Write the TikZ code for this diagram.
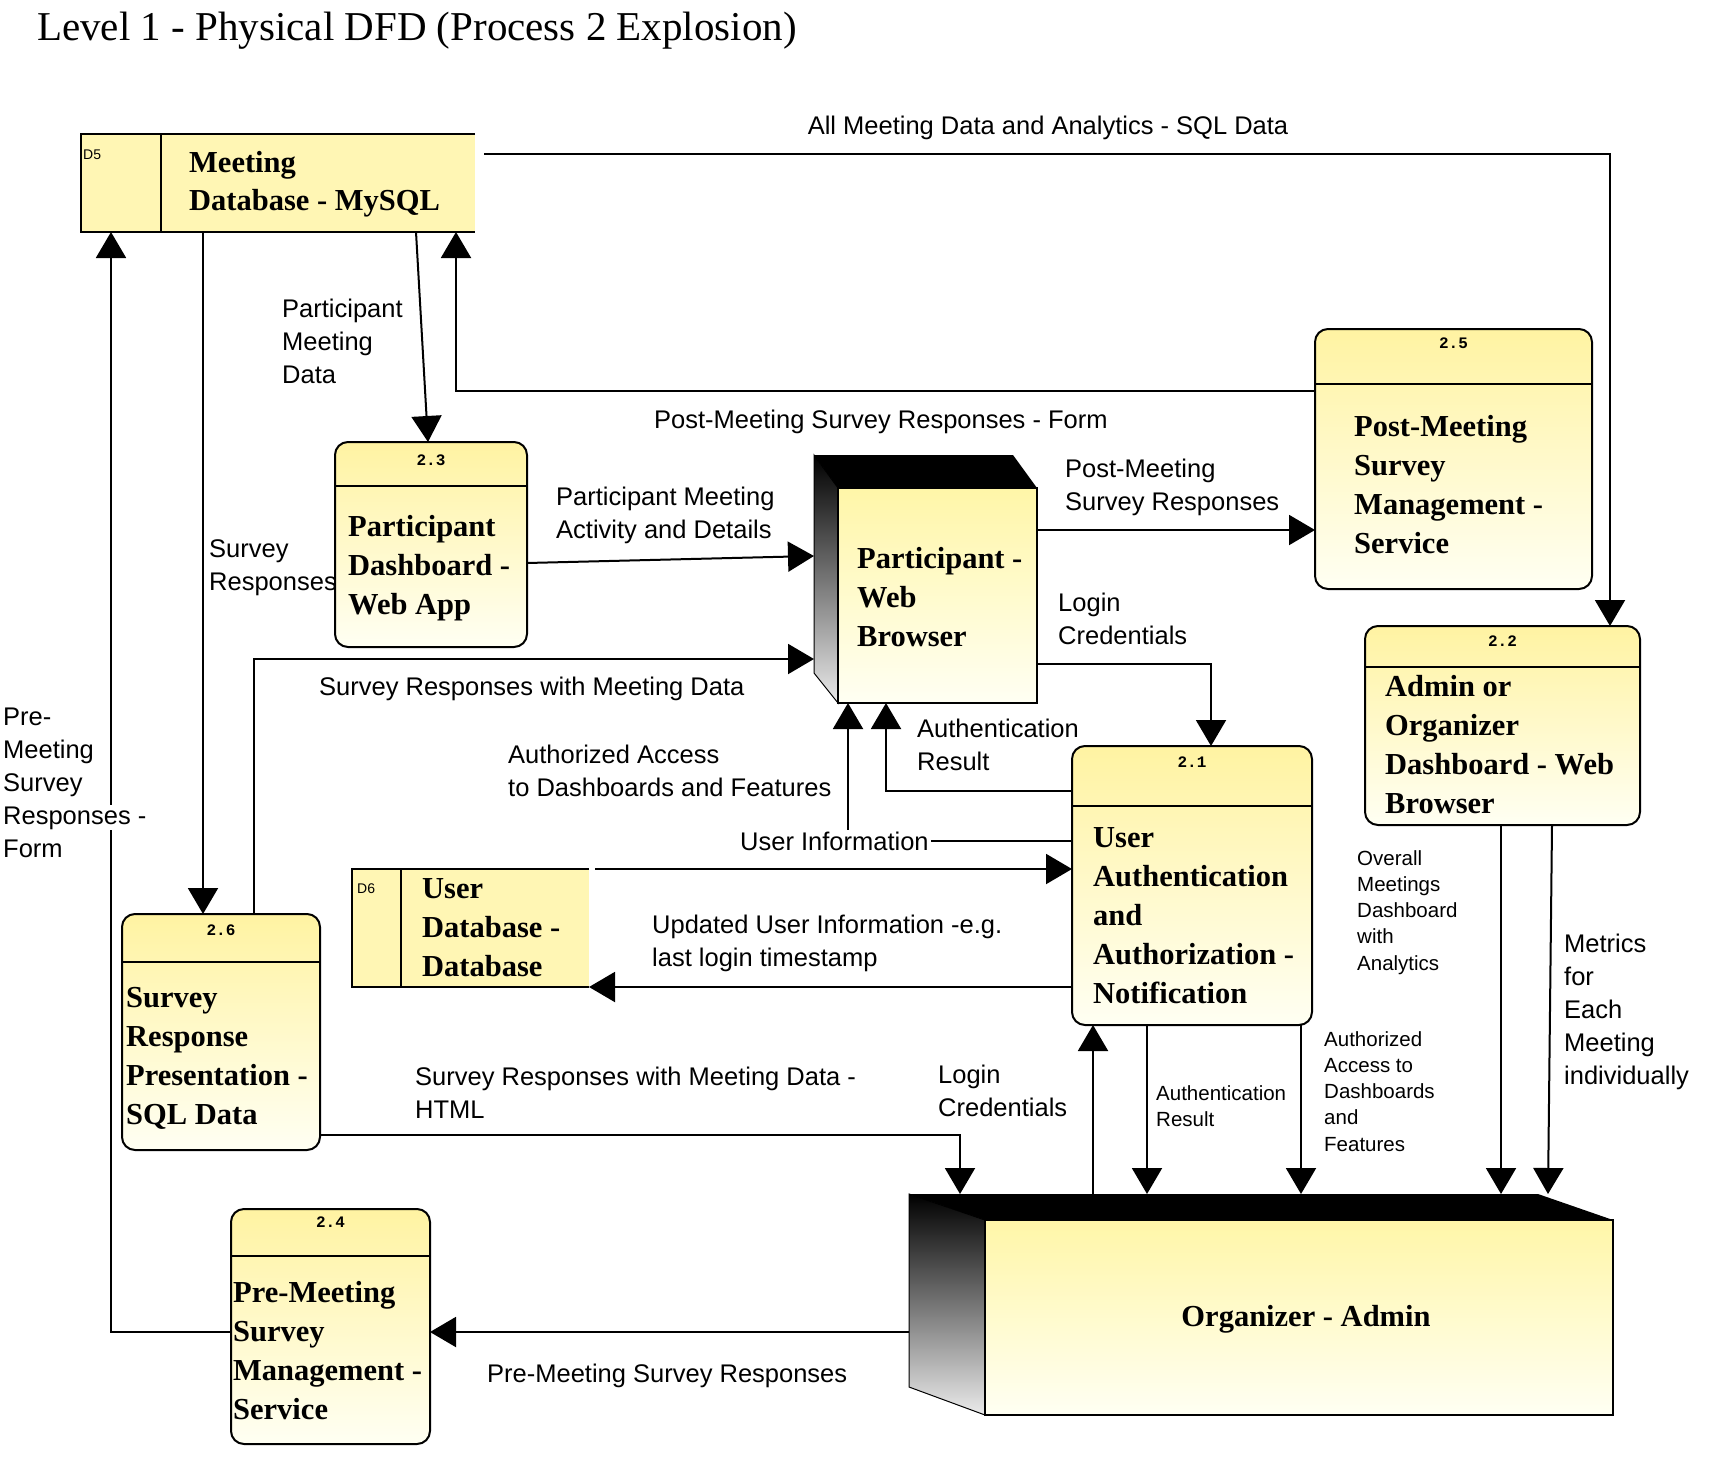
\documentclass[tikz,border=0pt]{standalone}
\usepackage{fontspec}
\setmainfont{Liberation Serif}
\newfontfamily\arialf{Liberation Sans}
\newfontfamily\monof{Liberation Mono}
\usetikzlibrary{arrows.meta}
\newcommand\mlines[1]{\vtop{\halign{##\hfil\cr#1\crcr}}}
\newcommand\wbg[1]{{\fboxsep=1pt\hspace*{-1pt}\colorbox{white}{#1}}}
\definecolor{procTop}{HTML}{FFF3A2}
\definecolor{procBot}{HTML}{FFFFF3}
\definecolor{storeY}{HTML}{FFF6B4}
\definecolor{extTop}{HTML}{FFF6A8}
\begin{document}
\begin{tikzpicture}[x=1pt,y=-1pt,
  boxline/.style={line width=2pt},
  flow/.style={line width=2pt,-{Triangle[width=30pt,length=26pt]}},
  proc/.style={draw,line width=2pt,rounded corners=13pt,top color=procTop,bottom color=procBot,inner sep=0pt,outer sep=0pt,anchor=north west},
  store/.style={fill=storeY,inner sep=0pt,outer sep=0pt,anchor=north west},
  extface/.style={draw,line width=2pt,top color=extTop,bottom color=procBot,inner sep=0pt,outer sep=0pt,anchor=north west},
  area/.style={inner sep=0pt,outer sep=0pt,anchor=north west},
  ptext/.style={font=\bfseries\fontsize{30.5}{39}\selectfont,inner sep=0pt,anchor=base west},
  lbl/.style={font=\arialf\fontsize{25.5}{33}\selectfont,inner sep=0pt,anchor=base west},
  slbl/.style={font=\arialf\fontsize{20.5}{26.3}\selectfont,inner sep=0pt,anchor=base west},
  num/.style={font=\monof\bfseries\fontsize{16}{16}\selectfont,inner sep=0pt},
  sid/.style={font=\arialf\fontsize{14}{14}\selectfont,inner sep=0pt,anchor=base west}]
\useasboundingbox (0,0) rectangle (1720,1474);
\fill[white] (0,0) rectangle (1720,1474);

% title
\node[font=\fontsize{41}{41}\selectfont,inner sep=0pt,anchor=base west] (title) at (37,41) {Level 1 - Physical DFD (Process 2 Explosion)};

% D5 data store
\node[store,minimum width=394pt,minimum height=98pt] (d5) at (81,134) {};
\draw[boxline] (d5.north east) -- (d5.north west) -- (d5.south west) -- (d5.south east);
\draw[boxline] (d5.north west -| 161,0) -- (d5.south west -| 161,0);
\node[sid] (d5id) at (83,160) {D5};
\node[ptext] (d5t) at (189,172) {\mlines{Meeting\cr Database - MySQL}};

% D6 data store
\node[store,minimum width=237pt,minimum height=118pt] (d6) at (352,869) {};
\draw[boxline] (d6.north east) -- (d6.north west) -- (d6.south west) -- (d6.south east);
\draw[boxline] (d6.north west -| 401,0) -- (d6.south west -| 401,0);
\node[sid] (d6id) at (357,893) {D6};
\node[ptext] (d6t) at (422,898) {\mlines{User\cr Database -\cr Database}};

% processes
\node[proc,minimum width=192pt,minimum height=205pt] (p23) at (335,442) {};
\draw[boxline] (p23.west |- 0,486) -- (p23.east |- 0,486);
\node[num] (n23) at (p23.north |- 0,460) {2.3};
\node[ptext] (t23) at (348,536) {\mlines{Participant\cr Dashboard -\cr Web App}};

\node[proc,minimum width=277pt,minimum height=260pt] (p25) at (1315,329) {};
\draw[boxline] (p25.west |- 0,384) -- (p25.east |- 0,384);
\node[num] (n25) at (p25.north |- 0,343) {2.5};
\node[ptext] (t25) at (1354,436) {\mlines{Post-Meeting\cr Survey\cr Management -\cr Service}};

\node[proc,minimum width=275pt,minimum height=199pt] (p22) at (1365,626) {};
\draw[boxline] (p22.west |- 0,667) -- (p22.east |- 0,667);
\node[num] (n22) at (p22.north |- 0,641) {2.2};
\node[ptext] (t22) at (1385,696) {\mlines{Admin or\cr Organizer\cr Dashboard - Web\cr Browser}};

\node[proc,minimum width=240pt,minimum height=279pt] (p21) at (1072,746) {};
\draw[boxline] (p21.west |- 0,806) -- (p21.east |- 0,806);
\node[num] (n21) at (p21.north |- 0,762) {2.1};
\node[ptext] (t21) at (1093,847) {\mlines{User\cr Authentication\cr and\cr Authorization -\cr Notification}};

\node[proc,minimum width=198pt,minimum height=236pt] (p26) at (122,914) {};
\draw[boxline] (p26.west |- 0,962) -- (p26.east |- 0,962);
\node[num] (n26) at (p26.north |- 0,930) {2.6};
\node[ptext] (t26) at (126,1007) {\mlines{Survey\cr Response\cr Presentation -\cr SQL Data}};

\node[proc,minimum width=199pt,minimum height=235pt] (p24) at (231,1209) {};
\draw[boxline] (p24.west |- 0,1256) -- (p24.east |- 0,1256);
\node[num] (n24) at (p24.north |- 0,1222) {2.4};
\node[ptext] (t24) at (233,1302) {\mlines{Pre-Meeting\cr Survey\cr Management -\cr Service}};

% external entity: participant web browser
\node[area,minimum width=223pt,minimum height=248pt] (pwbbox) at (814,455) {};
\shade[top color=black,bottom color=black!8,draw=black,line width=1pt] (814,455) -- (838,488) -- (838,703) -- (814,673) -- cycle;
\fill[black] (814,455) -- (1013,455) -- (1037,488) -- (838,488) -- cycle;
\node[extface,minimum width=199pt,minimum height=215pt] (pwb) at (838,488) {};
\node[ptext] (pwbt) at (857,568) {\mlines{Participant -\cr Web\cr Browser}};

% external entity: organizer admin
\node[area,minimum width=704pt,minimum height=221pt] (orgbox) at (909,1194) {};
\shade[top color=black,bottom color=black!8,draw=black,line width=1pt] (909,1194) -- (985,1220) -- (985,1415) -- (909,1387) -- cycle;
\fill[black] (909,1194) -- (1538,1194) -- (1613,1220) -- (985,1220) -- cycle;
\node[extface,minimum width=628pt,minimum height=195pt] (org) at (985,1220) {};
\node[ptext,anchor=base] (orgt) at (1306,1326) {Organizer - Admin};

% connectors
\draw[flow] (d5.east |- 0,154) ++(9,0) -| (1610,0 |- p22.north);
\draw[flow] (d5.south -| 416,0) -- (p23.north -| 428,0);
\draw[flow] (p25.west |- 0,391) -| (456,0 |- d5.south);
\draw[flow] (p24.west |- 0,1332) -| (111,0 |- d5.south);
\draw[flow] (203,0 |- d5.south) -- (203,0 |- p26.north);
\draw[flow] (p23.east |- 0,563) -- (pwbbox.west |- 0,556);
\draw[flow] (254,0 |- p26.north) |- (pwbbox.west |- 0,659);
\draw[flow] (pwb.east |- 0,530) -- (p25.west |- 0,530);
\draw[flow] (pwb.east |- 0,664) -| (1211,0 |- p21.north);
\draw[flow] (p21.west |- 0,791) -| (886,0 |- pwb.south);
\draw[flow] (p21.west |- 0,841) -| (848,0 |- pwb.south);
\draw[flow] (d6.north east) ++(6,0) -- (p21.west |- d6.north east);
\draw[flow] (p21.west |- d6.south east) -- (d6.south east);
\draw[flow] (p26.east |- 0,1135) -| (960,0 |- orgbox.north);
\draw[flow] (1093,0 |- orgbox.north) -- (1093,0 |- p21.south);
\draw[flow] (1147,0 |- p21.south) -- (1147,0 |- orgbox.north);
\draw[flow] (1301,0 |- p21.south) -- (1301,0 |- orgbox.north);
\draw[flow] (1501,0 |- p22.south) -- (1501,0 |- orgbox.north);
\draw[flow] (1552,0 |- p22.south) -- (1548,0 |- orgbox.north);
\draw[flow] (orgbox.west |- 0,1332) -- (p24.east |- 0,1332);

% labels
\node[lbl,anchor=base] (l1) at (1048,135) {All Meeting Data and Analytics - SQL Data};
\node[lbl] (l2) at (282,317) {\mlines{Participant\cr Meeting\cr Data}};
\node[lbl] (l3) at (654,428) {Post-Meeting Survey Responses - Form};
\node[lbl] (l4) at (3,725) {\mlines{Pre-\cr Meeting\cr Survey\cr \wbg{Responses -}\cr Form}};
\node[lbl] (l5) at (209,557) {\mlines{Survey\cr Responses}};
\node[lbl] (l6) at (556,505) {\mlines{Participant Meeting\cr Activity and Details}};
\node[lbl] (l7) at (319,695) {Survey Responses with Meeting Data};
\node[lbl] (l8) at (1065,477) {\mlines{Post-Meeting\cr Survey Responses}};
\node[lbl] (l9) at (1058,611) {\mlines{Login\cr Credentials}};
\node[lbl] (l10) at (917,737) {\mlines{Authentication\cr Result}};
\node[lbl] (l11) at (508,763) {\mlines{Authorized Access\cr to Dashboards and Features}};
\node[lbl,fill=white,inner sep=2pt] (l12) at (738,850) {User Information};
\node[lbl] (l13) at (652,933) {\mlines{Updated User Information -e.g.\cr last login timestamp}};
\node[lbl] (l14) at (415,1085) {\mlines{Survey Responses with Meeting Data -\cr HTML}};
\node[lbl] (l15) at (938,1083) {\mlines{Login\cr Credentials}};
\node[lbl] (l16) at (487,1382) {Pre-Meeting Survey Responses};
\node[lbl] (l17) at (1564,952) {\mlines{Metrics\cr for\cr Each\cr Meeting\cr individually}};
\node[slbl] (s1) at (1357,865) {\mlines{Overall\cr Meetings\cr Dashboard\cr with\cr Analytics}};
\node[slbl] (s2) at (1156,1100) {\mlines{Authentication\cr Result}};
\node[slbl] (s3) at (1324,1046) {\mlines{Authorized\cr Access to\cr Dashboards\cr and\cr Features}};
\end{tikzpicture}
\end{document}
